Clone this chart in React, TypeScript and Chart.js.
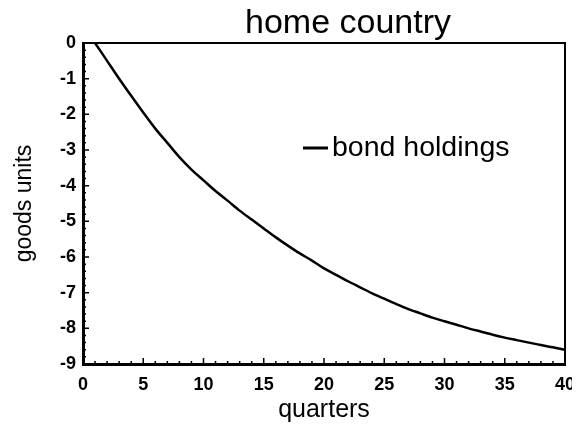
import React, { useEffect, useRef } from "react";
import { Chart, registerables } from "chart.js";

Chart.register(...registerables);

const quarters = [
  1, 2, 3, 4, 5, 6, 7, 8, 9, 10,
  11, 12, 13, 14, 15, 16, 17, 18, 19, 20,
  21, 22, 23, 24, 25, 26, 27, 28, 29, 30,
  31, 32, 33, 34, 35, 36, 37, 38, 39, 40,
];
const bondHoldings = [
  0, -0.5, -1.0, -1.48, -1.95, -2.4, -2.8, -3.2, -3.55, -3.85,
  -4.15, -4.42, -4.7, -4.95, -5.2, -5.45, -5.68, -5.9, -6.1, -6.32,
  -6.5, -6.68, -6.85, -7.02, -7.17, -7.32, -7.46, -7.58, -7.7, -7.8,
  -7.9, -8.0, -8.09, -8.18, -8.26, -8.33, -8.4, -8.47, -8.53, -8.6,
];
const xTickValues = [0, 5, 10, 15, 20, 25, 30, 35, 40];
const yTickValues = [0, -1, -2, -3, -4, -5, -6, -7, -8, -9];
const titleText = "home country";
const seriesLabel = "bond holdings";
const xTitle = "quarters";
const yTitle = "goods units";

const FONT = "Arial, 'Liberation Sans', Helvetica, sans-serif";

const decorPlugin = {
  id: "decor",
  afterDatasetsDraw(chart: any) {
    const { ctx, chartArea: a, scales } = chart;
    const x = scales.x;
    const y = scales.y;
    ctx.save();
    ctx.strokeStyle = "#000";
    ctx.fillStyle = "#000";
    // top and right frame
    ctx.lineWidth = 2;
    ctx.beginPath();
    ctx.moveTo(a.left, a.top);
    ctx.lineTo(a.right, a.top);
    ctx.lineTo(a.right, a.bottom);
    ctx.stroke();
    // inward ticks
    ctx.lineWidth = 1.5;
    ctx.beginPath();
    for (let v = x.min; v <= x.max; v += 1) {
      const px = x.getPixelForValue(v);
      const len = v % 5 === 0 ? 6 : 3;
      ctx.moveTo(px, a.bottom);
      ctx.lineTo(px, a.bottom - len);
    }
    for (let i = 0; i <= Math.round((y.max - y.min) * 5); i++) {
      const v = y.max - i / 5;
      const py = y.getPixelForValue(v);
      const len = i % 5 === 0 ? 6 : 3;
      ctx.moveTo(a.left, py);
      ctx.lineTo(a.left + len, py);
    }
    ctx.stroke();

    // legend (inside plot)
    const ds = chart.data.datasets[0];
    const lx = a.left + 220;
    const ly = a.top + 105;
    ctx.strokeStyle = ds.borderColor;
    ctx.lineWidth = 3;
    ctx.beginPath();
    ctx.moveTo(lx, ly);
    ctx.lineTo(lx + 25, ly);
    ctx.stroke();
    ctx.font = `28.5px ${FONT}`;
    ctx.textAlign = "left";
    ctx.textBaseline = "middle";
    ctx.fillText(ds.label, lx + 29, ly);

    // title
    ctx.font = `34px ${FONT}`;
    ctx.textAlign = "center";
    ctx.textBaseline = "alphabetic";
    ctx.fillText(titleText, (a.left + a.right) / 2 + 24, a.top - 10);
    ctx.restore();
  },
};

export default function App() {
  const ref = useRef<HTMLCanvasElement | null>(null);
  useEffect(() => {
    if (!ref.current) return;
    const chart = new Chart(ref.current, {
      type: "line",
      data: {
        datasets: [
          {
            label: seriesLabel,
            data: quarters.map((q, i) => ({ x: q, y: bondHoldings[i] })),
            borderColor: "#000",
            backgroundColor: "#000",
            borderWidth: 2.5,
            pointRadius: 0,
            tension: 0.3,
            fill: false,
          },
        ],
      },
      options: {
        animation: false,
        responsive: true,
        maintainAspectRatio: false,
        layout: { padding: { top: 35, right: 7, left: 0, bottom: 0 } },
        plugins: {
          legend: { display: false },
          title: { display: false },
          tooltip: { enabled: false },
        },
        scales: {
          x: {
            type: "linear",
            min: 0,
            max: 40,
            afterBuildTicks: (s: any) => {
              s.ticks = xTickValues.map((v) => ({ value: v }));
            },
            afterFit: (s: any) => {
              s.height = 60;
              s.paddingLeft = 0;
              s.paddingRight = 0;
            },
            grid: { display: false, drawTicks: false },
            border: { display: true, width: 3, color: "#000" },
            ticks: {
              color: "#000",
              font: { family: FONT, size: 18, weight: "bold" },
              padding: 10,
              maxRotation: 0,
            },
            title: {
              display: true,
              text: xTitle,
              color: "#000",
              font: { family: FONT, size: 25, lineHeight: 1.0 },
              padding: { top: 0, bottom: 1 },
            },
          },
          y: {
            type: "linear",
            min: -9,
            max: 0,
            afterBuildTicks: (s: any) => {
              s.ticks = yTickValues.map((v) => ({ value: v }));
            },
            afterFit: (s: any) => {
              s.width = 75;
              s.paddingTop = 0;
              s.paddingBottom = 0;
            },
            grid: { display: false, drawTicks: false },
            border: { display: true, width: 3, color: "#000" },
            ticks: {
              color: "#000",
              font: { family: FONT, size: 18, weight: "bold" },
              padding: 7,
            },
            title: {
              display: true,
              text: yTitle,
              color: "#000",
              font: { family: FONT, size: 23, lineHeight: 1.2 },
              padding: { top: 3, bottom: 0 },
            },
          },
        },
      },
      plugins: [decorPlugin],
    });
    return () => chart.destroy();
  }, []);
  return (
    <div style={{ width: 564, height: 416, position: "relative" }}>
      <canvas ref={ref} />
    </div>
  );
}
